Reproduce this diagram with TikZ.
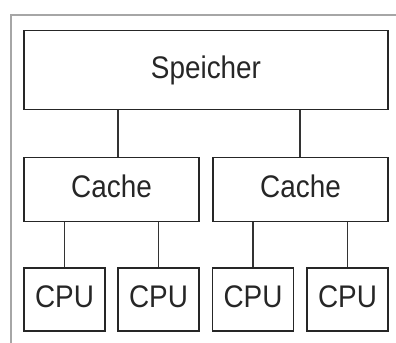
\documentclass[tikz,border=0pt]{standalone}
\usepackage{fontspec}
\setmainfont{Liberation Sans}
\newcommand{\tall}[1]{\scalebox{1}[1.12]{#1}}
\begin{document}
\begin{tikzpicture}[x=1bp,y=-1bp,
  unit/.style={draw=black!85, line width=1.7bp, inner sep=0pt,
    font=\fontsize{28}{30}\selectfont, text=black!85,
    text height=16.5bp, text depth=0bp},
  link/.style={draw=black!80, line width=1.6bp}]
\useasboundingbox (0,0) rectangle (396,343);
% outer frame
\draw[gray!70, line width=2.5bp] (11,343) -- (11,15) -- (396,15);
% memory
\node[unit, minimum width=364bp, minimum height=79bp] (mem) at (206,70) {\tall{Speicher}};
% caches
\node[unit, minimum width=175bp, minimum height=64bp] (c1) at (111.5,189.5) {\tall{Cache}};
\node[unit, minimum width=175bp, minimum height=64bp] (c2) at (300.5,189.5) {\tall{Cache}};
% processors
\node[unit, minimum width=81bp, minimum height=63bp] (p1) at (64.5,299.5) {\tall{CPU}};
\node[unit, minimum width=81bp, minimum height=63bp] (p2) at (158.5,299.5) {\tall{CPU}};
\node[unit, minimum width=81bp, minimum height=63bp] (p3) at (253,299.5) {\tall{CPU}};
\node[unit, minimum width=81bp, minimum height=63bp] (p4) at (347.5,299.5) {\tall{CPU}};
% connections
\draw[link] (mem.south -| 118,0) -- (c1.north -| 118,0);
\draw[link] (mem.south -| 300,0) -- (c2.north -| 300,0);
\draw[link] (c1.south -| p1) -- (p1.north);
\draw[link] (c1.south -| p2) -- (p2.north);
\draw[link] (c2.south -| p3) -- (p3.north);
\draw[link] (c2.south -| p4) -- (p4.north);
\end{tikzpicture}
\end{document}
